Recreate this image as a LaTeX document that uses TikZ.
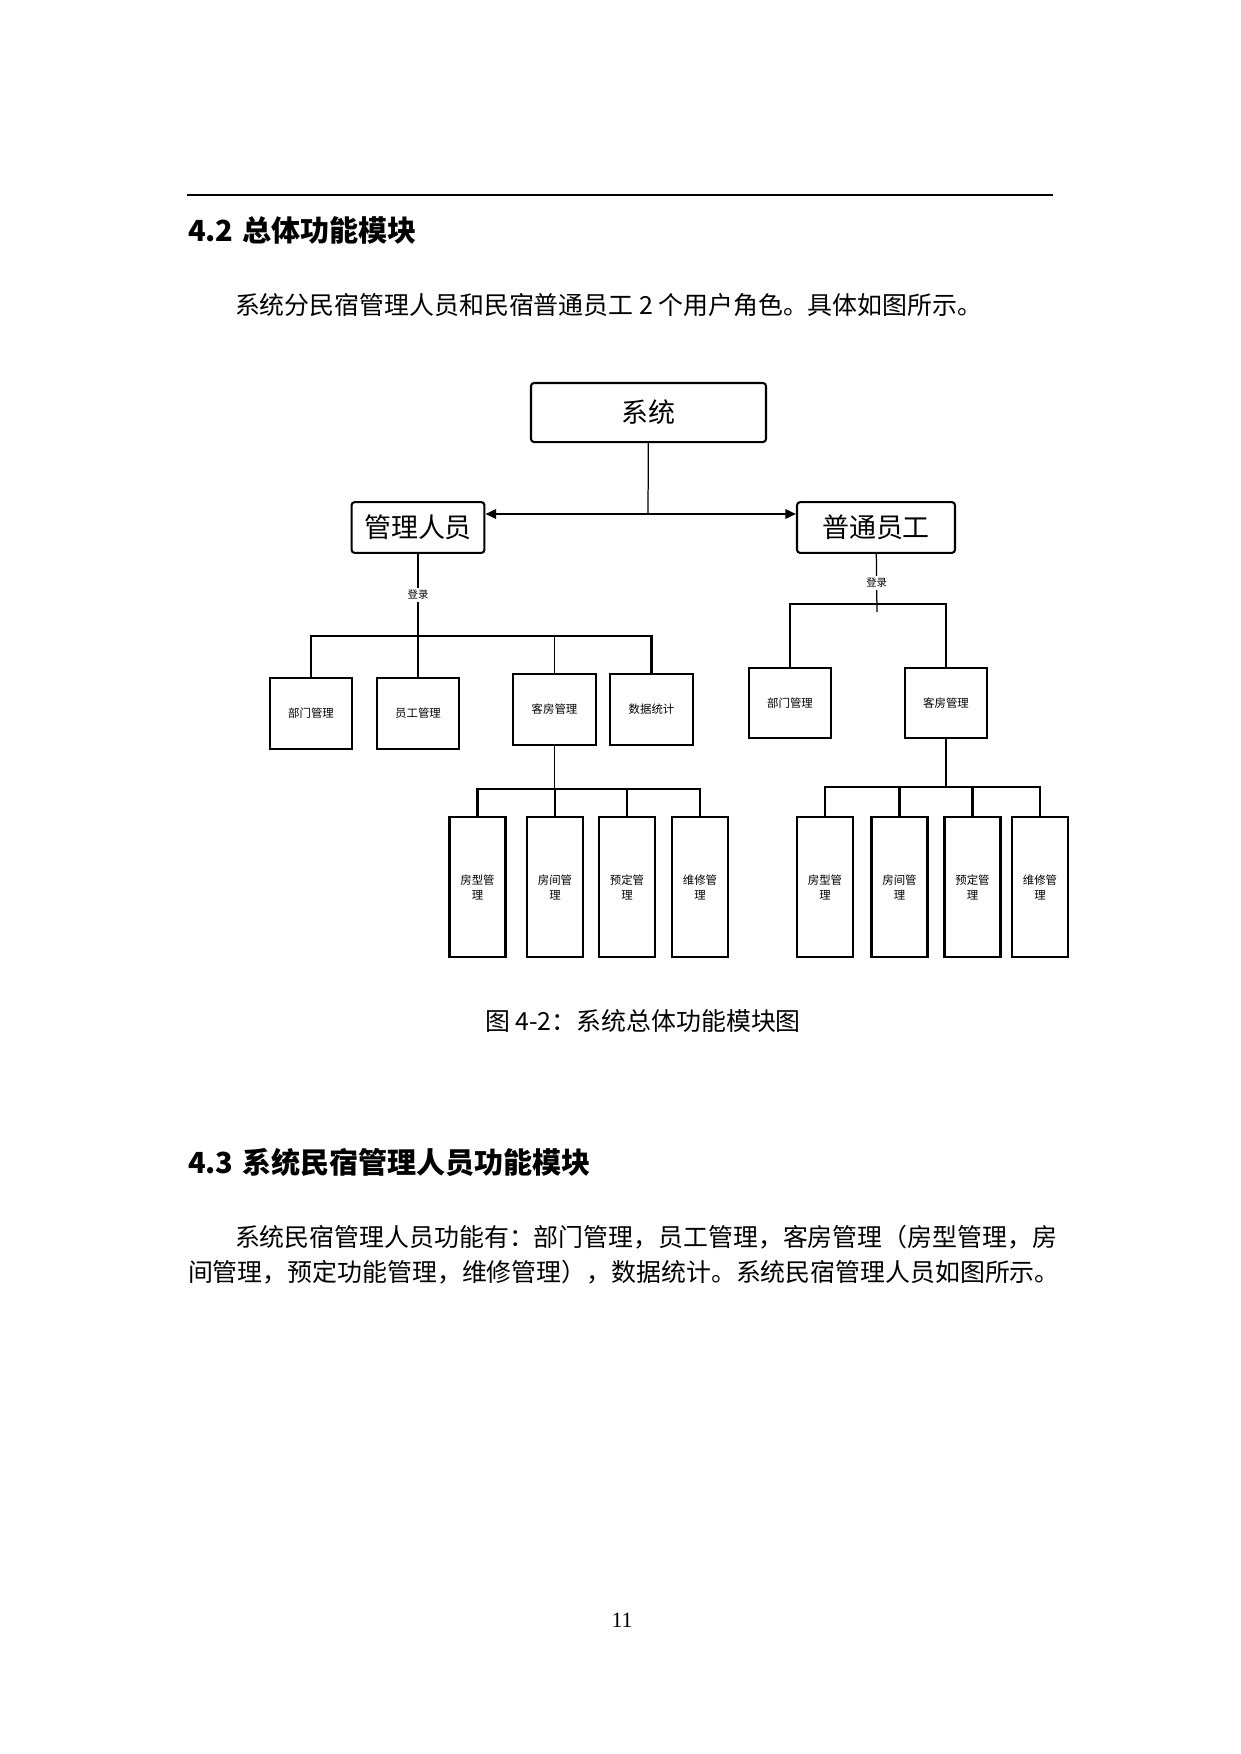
\documentclass[tikz,border=0pt]{standalone}
\usepackage{fontspec}
\setmainfont{Liberation Serif}
\newfontfamily\cjk{Noto Sans CJK SC}
\usetikzlibrary{arrows.meta,positioning}

\begin{document}
\begin{tikzpicture}[x=0.16933mm, y=-0.16933mm, line width=1pt,
    title node/.style={anchor=west, inner sep=0pt, font=\cjk\bfseries\fontsize{14}{16}\selectfont},
    text node/.style={anchor=west, inner sep=0pt, font=\cjk\fontsize{12}{14}\selectfont},
    root node/.style={draw, rounded corners=1.5pt, minimum width=39.8mm, minimum height=10mm, font=\cjk\fontsize{13}{15}\selectfont},
    role node/.style={draw, rounded corners=1.5pt, minimum height=8.6mm, font=\cjk\fontsize{13}{15}\selectfont},
    module node/.style={draw, minimum width=13.9mm, minimum height=12mm, inner sep=1pt, font=\cjk\fontsize{5.5}{7}\selectfont},
    leaf node/.style={draw, minimum width=9.48mm, minimum height=23.7mm, inner sep=1pt, align=center, font=\cjk\fontsize{5.5}{7.2}\selectfont},
    login/.style={fill=white, inner sep=1pt, font=\cjk\fontsize{5}{6}\selectfont},
    thin link/.style={line width=0.6pt},
    tip/.style={-{Triangle[length=1.8mm, width=1.6mm]}}]

    \useasboundingbox (0,0) rectangle (1240,1754);

    % page text
    \coordinate (ruleL) at (187,195);
    \coordinate (ruleR) at (1053,195);
    \draw[line width=1.2pt] (ruleL) -- (ruleR);
    \node[title node] (h42) at (187,230) {4.2\hspace{0.3em}总体功能模块};
    \node[text node] (intro) at (234,305) {系统分民宿管理人员和民宿普通员工 2 个用户角色。具体如图所示。};

    % top of the chart
    \node[root node] (sys) at (648.5,412.5) {系统};
    \node[role node, minimum width=22.5mm] (mgr) at (418,527.5) {管理人员};
    \node[role node, minimum width=26.75mm] (emp) at (876,527.5) {普通员工};

    \coordinate (sysJoin) at (648,514);
    \draw[thin link] (sys) -- (sysJoin);
    \draw[tip] (sysJoin) -- (sysJoin -| mgr.east);
    \draw[tip] (sysJoin) -- (sysJoin -| emp.west);

    % manager side
    \node[module node] (dept1) at (311,713.5) {部门管理};
    \node[module node] (staff1) at (418,713.5) {员工管理};
    \node[module node] (room1) at (554.5,709.5) {客房管理};
    \node[module node] (stat1) at (651.5,709.5) {数据统计};

    \coordinate (mgrBus) at (418,636);
    \draw (mgr) -- node[login] {登录} (mgrBus);
    \draw (mgrBus) -| (dept1);
    \draw (mgrBus) -- (staff1);
    \draw (mgrBus) -| (stat1);
    \draw[thin link] (mgrBus) -| (room1);

    \node[leaf node] (type1) at (477.5,887) {房型管\\理};
    \node[leaf node] (unit1) at (555,887) {房间管\\理};
    \node[leaf node] (book1) at (627,887) {预定管\\理};
    \node[leaf node] (fix1) at (700,887) {维修管\\理};

    \coordinate (roomBus1) at (554.5,789);
    \draw[thin link] (room1) -- (roomBus1);
    \draw (roomBus1) -| (type1);
    \draw (roomBus1) -| (fix1);
    \draw[thin link] (roomBus1) -| (unit1);
    \draw[thin link] (roomBus1) -| (book1);

    % staff side
    \node[module node] (dept2) at (790,703) {部门管理};
    \node[module node] (room2) at (946,703) {客房管理};

    \coordinate (empBus) at (877,604);
    \coordinate (empTail) at (877,612);
    \draw[thin link] (emp) -- node[login] {登录} (empTail);
    \draw (empBus) -| (dept2);
    \draw (empBus) -| (room2);

    \node[leaf node] (type2) at (825,887) {房型管\\理};
    \node[leaf node] (unit2) at (899.5,887) {房间管\\理};
    \node[leaf node] (book2) at (972.5,887) {预定管\\理};
    \node[leaf node] (fix2) at (1040,887) {维修管\\理};

    \coordinate (roomBus2) at (946,787);
    \draw (room2) -- (roomBus2);
    \draw (roomBus2) -| (type2);
    \draw (roomBus2) -| (unit2);
    \draw (roomBus2) -| (book2);
    \draw[thin link] (roomBus2) -| (fix2);

    % caption and next section
    \node[text node] (cap) at (484,1021) {图 4-2：系统总体功能模块图};
    \node[title node] (h43) at (187,1162) {4.3\hspace{0.3em}系统民宿管理人员功能模块};
    \node[text node] (body1) at (234,1237) {系统民宿管理人员功能有：部门管理，员工管理，客房管理（房型管理，房};
    \node[text node] (body2) at (187,1272) {间管理，预定功能管理，维修管理），数据统计。系统民宿管理人员如图所示。};
    \node[font=\fontsize{10.5}{12}\selectfont] (page) at (622,1620) {11};
\end{tikzpicture}
\end{document}
